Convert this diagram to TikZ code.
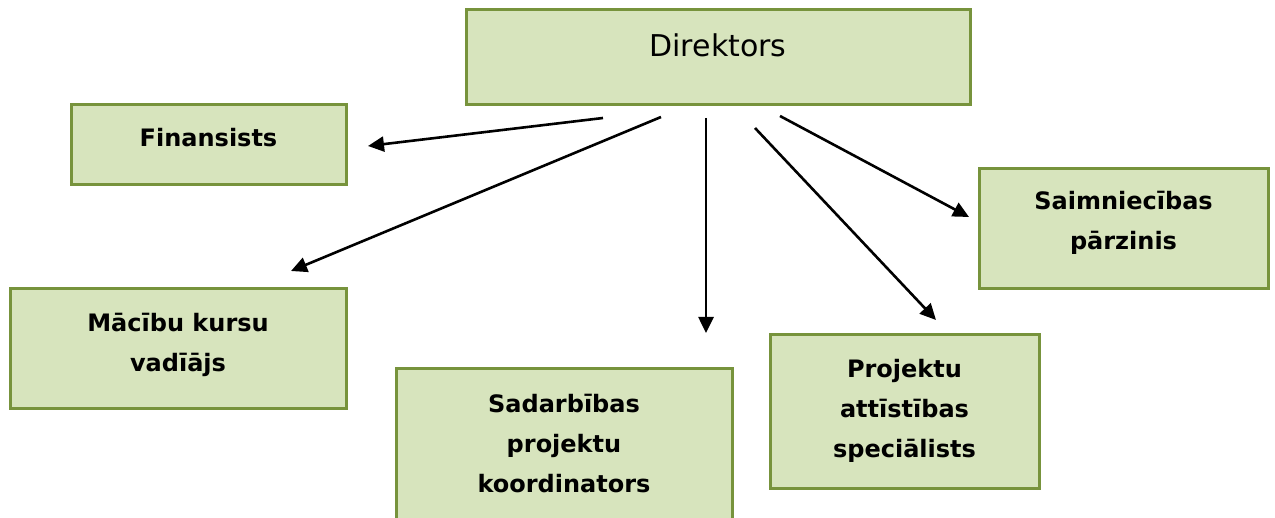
\documentclass[tikz,border=0pt]{standalone}
\usepackage{fontspec}
\setmainfont{DejaVu Sans}
\usetikzlibrary{arrows.meta}
\definecolor{boxfill}{HTML}{D7E4BD}
\definecolor{boxline}{HTML}{77933C}
\tikzset{
  box/.style={draw=boxline, fill=boxfill, line width=3pt, rectangle, inner sep=0pt},
  boldtxt/.style={font=\fontsize{24}{40}\selectfont\bfseries, align=center, inner sep=0pt},
  conn/.style={line width=2.6pt, -{Triangle[length=16pt,width=15pt]}}
}
\begin{document}
\begin{tikzpicture}[x=1pt,y=-1pt]
\useasboundingbox (0,0) rectangle (1275,518);
% boxes
\node[box, minimum width=504pt, minimum height=95pt] (dir) at (718,57.5) {};
\node[box, minimum width=275pt, minimum height=80pt] (fin) at (208.5,145) {};
\node[box, minimum width=336pt, minimum height=120pt] (mac) at (178,349) {};
\node[box, minimum width=336pt, minimum height=154pt] (sad) at (564,446) {};
\node[box, minimum width=269pt, minimum height=154pt] (proj) at (904.5,412) {};
\node[box, minimum width=289pt, minimum height=120pt] (saim) at (1123.5,229) {};
% texts
\node[font=\fontsize{30}{36}\selectfont, inner sep=0pt] (dirt) at (718,45) {Direktors};
\node[boldtxt] (fint) at (208.5,138) {Finansists};
\node[boldtxt] (mact) at (178,345) {Mācību kursu\\vadīājs};
\node[boldtxt] (sadt) at (564,444) {Sadarbības\\projektu\\koordinators};
\node[boldtxt] (projt) at (904.5,411) {Projektu\\attīstības\\speciālists};
\node[boldtxt] (saimt) at (1123.5,223) {Saimniecības\\pārzinis};
% connectors
\coordinate (s1) at (603,118); \coordinate (e1) at (368,146);
\coordinate (s2) at (661,117); \coordinate (e2) at (291,271);
\coordinate (s3) at (706,118); \coordinate (e3) at (706,333);
\coordinate (s4) at (755,128); \coordinate (e4) at (936,320);
\coordinate (s5) at (780,116); \coordinate (e5) at (969,217);
\draw[conn] (s1) -- (e1);
\draw[conn] (s2) -- (e2);
\draw[conn] (s3) -- (e3);
\draw[conn] (s4) -- (e4);
\draw[conn] (s5) -- (e5);
\end{tikzpicture}
\end{document}
